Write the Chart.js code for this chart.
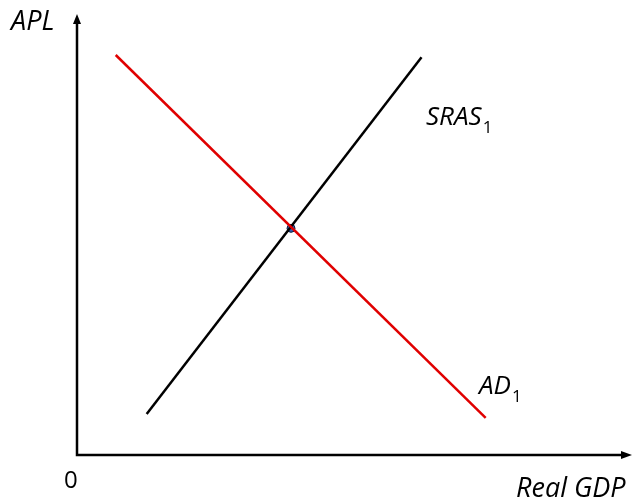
<!DOCTYPE html>
<html>
<head>
<meta charset="utf-8">
<script src="https://cdn.jsdelivr.net/npm/chart.js@4"></script>
<style>
  html, body { margin: 0; padding: 0; background: #fff; }
  #wrap { width: 635px; height: 499px; position: relative; }
</style>
</head>
<body>
<div id="wrap"><canvas id="adas"></canvas></div>
<script>
// curve end points (axis units 0..10)
const adX = [0.70, 7.39];
const adY = [9.07, 0.84];
const srasX = [1.26, 6.23];
const srasY = [0.93, 9.02];
const eqX = [3.87];
const eqY = [5.14];

const labelFont = "'Open Sans', 'Liberation Sans', sans-serif";

const toPoints = (xs, ys) => xs.map((x, i) => ({ x: x, y: ys[i] }));

// axes with arrow heads + text labels
const axesPlugin = {
  id: "axesArrows",
  beforeDatasetsDraw(chart) {
    const { ctx, chartArea: a } = chart;
    ctx.save();
    ctx.strokeStyle = "#000";
    ctx.fillStyle = "#000";
    ctx.lineWidth = 2.5;
    ctx.beginPath();
    ctx.moveTo(a.left, a.top + 6);
    ctx.lineTo(a.left, a.bottom);
    ctx.lineTo(a.right - 6, a.bottom);
    ctx.stroke();
    // y arrow
    ctx.beginPath();
    ctx.moveTo(a.left, a.top);
    ctx.lineTo(a.left - 4, a.top + 10);
    ctx.lineTo(a.left + 4, a.top + 10);
    ctx.closePath();
    ctx.fill();
    // x arrow
    ctx.beginPath();
    ctx.moveTo(a.right + 2, a.bottom);
    ctx.lineTo(a.right - 9, a.bottom - 4);
    ctx.lineTo(a.right - 9, a.bottom + 4);
    ctx.closePath();
    ctx.fill();
    ctx.restore();
  },
  afterDraw(chart) {
    const { ctx } = chart;
    ctx.save();
    ctx.fillStyle = "#000";
    ctx.textBaseline = "alphabetic";
    ctx.textAlign = "left";
    ctx.font = "italic 27px " + labelFont;
    ctx.fillText("APL", 11, 30);
    ctx.fillText("Real GDP", 516, 497);
    ctx.font = "24px " + labelFont;
    ctx.fillText("0", 64, 488);

    // curve labels with subscripts
    const sub = (txt, s, px, py) => {
      ctx.font = "italic 26px " + labelFont;
      ctx.fillText(txt, px, py);
      const w = ctx.measureText(txt).width;
      ctx.font = "17px " + labelFont;
      ctx.fillText(s, px + w + 1, py + 8);
    };
    sub("SRAS", "1", 426, 125);
    sub("AD", "1", 479, 394);
    ctx.restore();
  }
};

new Chart(document.getElementById("adas"), {
  type: "scatter",
  data: {
    datasets: [
      {
        label: "AD1",
        data: toPoints(adX, adY),
        showLine: true,
        borderColor: "#e00000",
        borderWidth: 2.5,
        pointRadius: 0
      },
      {
        label: "SRAS1",
        data: toPoints(srasX, srasY),
        showLine: true,
        borderColor: "#000",
        borderWidth: 2.5,
        pointRadius: 0
      },
      {
        label: "Equilibrium",
        data: toPoints(eqX, eqY),
        pointRadius: 4,
        pointBackgroundColor: "#2f5fb3",
        pointBorderColor: "#0a1a3a",
        pointBorderWidth: 1
      }
    ]
  },
  options: {
    responsive: true,
    maintainAspectRatio: false,
    animation: false,
    layout: { padding: { left: 77, right: 3, top: 14, bottom: 44 } },
    plugins: { legend: { display: false }, tooltip: { enabled: false } },
    scales: {
      x: { type: "linear", min: 0, max: 10, display: false },
      y: { type: "linear", min: 0, max: 10, display: false }
    }
  },
  plugins: [axesPlugin]
});
</script>
</body>
</html>
